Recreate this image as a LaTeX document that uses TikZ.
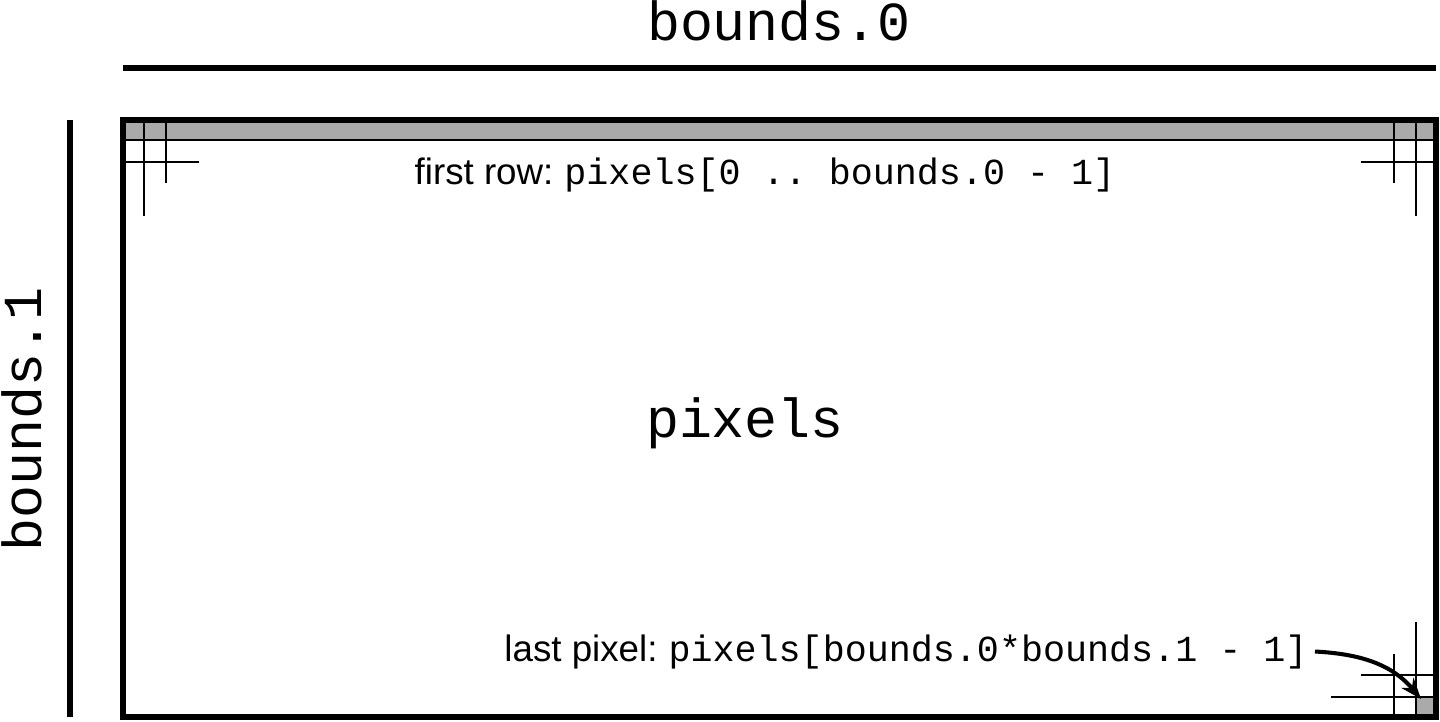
\documentclass[tikz,border=0pt]{standalone}
\usepackage{fontspec}
\setmainfont{Liberation Sans}
\setmonofont{Liberation Mono}
\usetikzlibrary{arrows.meta,positioning}
\definecolor{cellgray}{HTML}{AAAAAA}

\begin{document}
\begin{tikzpicture}[
  x=0.02cm, y=-0.02cm,
  big/.style={font=\fontsize{31.3}{36}\selectfont\ttfamily, inner sep=0pt},
  note/.style={font=\fontsize{20.9}{24}\selectfont, inner sep=0pt},
  edge/.style={line width=2.9pt},
  gridline/.style={line width=1.15pt},
  ptr/.style={-{Stealth[length=12pt, width=9pt]}, line width=2.3pt},
]
\useasboundingbox (0,0) rectangle (1440,721);

%% Shaded first row and last pixel
\fill[cellgray] (123,120) rectangle (1436,140);
\fill[cellgray] (1416,697) rectangle (1436,717);

%% Grid lines
\draw[gridline] (123,140) -- (1436,140);
% top left corner
\draw[gridline] (144,120) -- (144,216);
\draw[gridline] (166,120) -- (166,183);
\draw[gridline] (123,162) -- (199,162);
% top right corner
\draw[gridline] (1394,120) -- (1394,183);
\draw[gridline] (1416,120) -- (1416,216);
\draw[gridline] (1361,162) -- (1436,162);
% bottom right corner
\draw[gridline] (1394,654) -- (1394,717);
\draw[gridline] (1416,622) -- (1416,717);
\draw[gridline] (1361,675) -- (1436,675);
\draw[gridline] (1331,697) -- (1436,697);

%% Image frame and extents
\draw[edge] (123,120) rectangle (1436,717);
\draw[edge] (123,68) -- (1436,68);
\draw[edge] (70,120) -- (70,717);

%% Labels
\node[big, anchor=base] (width) at (779,40) {bounds.0};
\node[big, anchor=base, rotate=90] (height) at (41,419) {bounds.1};
\node[big, anchor=base] (pixels) at (745,437) {pixels};
\node[note, anchor=base] (firstrow) at (765,184)
  {first row:\hspace{0.3em}\texttt{pixels[0 .. bounds.0 - 1]}};
\node[note, anchor=base] (lastpx) at (906,661)
  {last pixel:\hspace{0.3em}\texttt{pixels[bounds.0*bounds.1 - 1]}};

%% Pointer to last pixel
\coordinate (lastcell) at (1421,699);
\draw[ptr] ([xshift=4pt]lastpx.east) to[out=-3, in=130] (lastcell);

\end{tikzpicture}
\end{document}
